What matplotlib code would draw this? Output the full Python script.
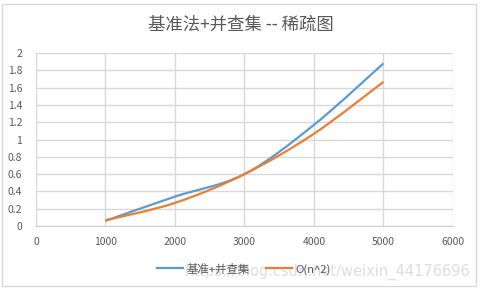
import matplotlib
matplotlib.use("Agg")
import matplotlib.pyplot as plt
from matplotlib.path import Path
from matplotlib.patches import PathPatch, Rectangle
from matplotlib.lines import Line2D
import numpy as np

plt.rcParams['font.family'] = ['Noto Sans CJK SC', 'DejaVu Sans']

title = "基准法+并查集 -- 稀疏图"
n_values = [1000, 2000, 3000, 4000, 5000]
baseline_uf = [0.06, 0.34, 0.60, 1.17, 1.88]
o_n2 = [0.0667, 0.267, 0.60, 1.067, 1.667]
series_names = ["基准+并查集", "O(n^2)"]
colors = ["#5b9bd5", "#ed7d31"]
xticks = [0, 1000, 2000, 3000, 4000, 5000, 6000]
yticks = [0, 0.2, 0.4, 0.6, 0.8, 1, 1.2, 1.4, 1.6, 1.8, 2]
ytick_labels = ["0", "0.2", "0.4", "0.6", "0.8", "1", "1.2", "1.4", "1.6", "1.8", "2"]

W, H = 481, 289
fig = plt.figure(figsize=(W / 100, H / 100), dpi=100)
ax = fig.add_axes([36 / W, 1 - 226 / H, (453 - 36) / W, (226 - 53) / H])


def smooth_path(xs, ys):
    pts = np.column_stack([xs, ys]).astype(float)
    verts = [pts[0]]
    codes = [Path.MOVETO]
    n = len(pts)
    for i in range(n - 1):
        p0 = pts[i - 1] if i > 0 else pts[i]
        p1 = pts[i]
        p2 = pts[i + 1]
        p3 = pts[i + 2] if i + 2 < n else pts[i + 1]
        c1 = p1 + (p2 - p0) / 6.0
        c2 = p2 - (p3 - p1) / 6.0
        verts += [c1, c2, p2]
        codes += [Path.CURVE4] * 3
    return Path(verts, codes)


for ys, c in zip([baseline_uf, o_n2], colors):
    patch = PathPatch(smooth_path(n_values, ys), facecolor='none', edgecolor=c,
                      lw=1.6, zorder=3, capstyle='butt')
    ax.add_patch(patch)

ax.set_xlim(0, 6000)
ax.set_ylim(0, 2)
ax.set_xticks(xticks)
ax.set_xticklabels([str(x) for x in xticks])
ax.set_yticks(yticks)
ax.set_yticklabels(ytick_labels)
ax.grid(True, color="#d9d9d9", lw=1)
ax.set_axisbelow(True)
for s in ['top', 'right', 'left']:
    ax.spines[s].set_visible(False)
ax.spines['bottom'].set_color("#d0d0d0")
ax.tick_params(length=0, labelsize=7.5, labelcolor="#595959", pad=8)
ax.tick_params(axis='y', pad=10)

fig.text(0.5, 1 - 25 / H, title, ha='center', va='center', fontsize=12.5, color="#595959")

fig.text(470 / W, 1 - 272 / H, "https://blog.csdn.net/weixin_44176696", ha='right', va='center',
         fontsize=10.5, color="#c8c8c8", alpha=0.6, family=['DejaVu Sans'], zorder=0)

handles = [Line2D([], [], color=c, lw=1.6) for c in colors]
fig.legend(handles, series_names, loc='center', bbox_to_anchor=(244 / W, 1 - 269 / H),
           ncol=2, frameon=False, fontsize=8.2, labelcolor="#595959",
           handlelength=2.3, columnspacing=1.4, handletextpad=0.3)

fig.add_artist(Rectangle((2 / W, 3 / H), (476 - 2) / W, (286 - 4) / H, transform=fig.transFigure,
                         fill=False, edgecolor="#d9d9d9", lw=1))

fig.savefig("out.png", dpi=100)
